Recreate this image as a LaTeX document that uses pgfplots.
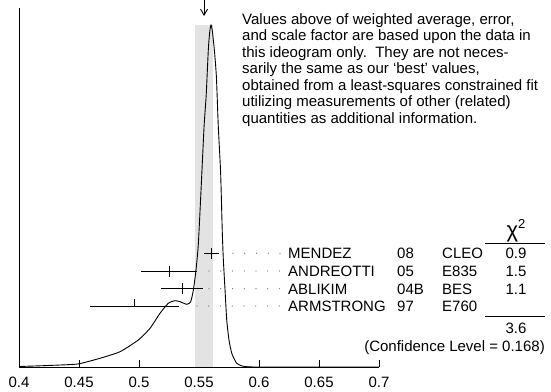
\documentclass[border=0pt]{standalone}
\usepackage{fontspec}
\setmainfont{Liberation Sans}
\usepackage{pgfplots}
\pgfplotsset{compat=1.18}
\usetikzlibrary{arrows.meta}

% ideogram curve (x, height)
\pgfplotstableread{
x h
0.4000 0.5
0.4200 1.3
0.4400 2.3
0.4500 3.2
0.4675 8.7
0.4842 15.3
0.4994 27
0.5092 38.7
0.5175 53.7
0.5244 63.7
0.5300 66.3
0.5342 65.3
0.5398 62.7
0.5431 65.3
0.5453 77
0.5475 97
0.5494 122
0.5515 172
0.5542 240
0.5560 272
0.5578 318
0.5590 336
0.5600 342
0.5610 337
0.5628 317
0.5645 290
0.5661 240
0.5680 195
0.5694 135
0.5703 107
0.5717 77
0.5731 47
0.5750 27
0.5773 13.7
0.5814 3.7
0.5860 1
0.5900 0.3
0.6008 0
0.7000 0
}\ideogram

% measurements: value, row height, error
\pgfplotstableread{
x y e
0.5603 113.7 0.0061
0.5250 96.0 0.0235
0.5360 78.3 0.0175
}\meas
\pgfplotstableread{
x y e
0.4960 61.0 0.0370
}\measlow

\begin{document}
\begin{tikzpicture}[font=\fontsize{15bp}{16.5bp}\selectfont]
\useasboundingbox (-19bp,-25bp) rectangle (532bp,367bp);
\begin{axis}[
  x=1200bp, y=1bp,
  xmin=0.4, xmax=0.7, ymin=0, ymax=359,
  axis x line=bottom, axis y line=left,
  axis line style={-, line width=0.9bp, black},
  xtick={0.4,0.45,0.5,0.55,0.6,0.65,0.7},
  xticklabels={0.4,0.45,0.5,0.55,0.6,0.65,0.7},
  ytick=\empty,
  tick align=inside,
  major tick length=7bp,
  tick style={black, line width=0.9bp},
  xticklabel style={font=\fontsize{15bp}{16.5bp}\selectfont, yshift=-6.5bp},
  clip=false,
]
% scale-factor band
\addplot [draw=none, fill=black!11] coordinates {(0.5467,0) (0.5614,0) (0.5614,342) (0.5467,342)} -- cycle;

\addplot [black, line width=0.9bp, smooth, tension=0.35] table [x=x, y=h] {\ideogram};

% dotted leaders
\draw [black!60, line width=1.2bp, line cap=round, dash pattern=on 0pt off 11.76bp]
  (axis cs:0.57833,113.7) -- (axis cs:0.6185,113.7);
\draw [black!60, line width=1.2bp, line cap=round, dash pattern=on 0pt off 11.76bp]
  (axis cs:0.55833,96) -- (axis cs:0.6185,96);
\draw [black!60, line width=1.2bp, line cap=round, dash pattern=on 0pt off 11.76bp]
  (axis cs:0.55833,78.3) -- (axis cs:0.6185,78.3);
\draw [black!60, line width=1.2bp, line cap=round, dash pattern=on 0pt off 11.76bp]
  (axis cs:0.54833,61) -- (axis cs:0.6185,61);

\addplot [black, only marks, mark=|, mark size=5.5bp, mark options={line width=0.9bp},
  error bars/.cd, x dir=both, x explicit, error mark=none,
  error bar style={line width=0.9bp, black}]
  table [x=x, y=y, x error=e] {\meas};
\addplot [black, only marks, mark=|, mark size=3.3bp, mark options={line width=0.9bp, yshift=3.3bp},
  error bars/.cd, x dir=both, x explicit, error mark=none,
  error bar style={line width=0.9bp, black}]
  table [x=x, y=y, x error=e] {\measlow};

% weighted average arrow
\draw [black, line width=0.9bp, -{Straight Barb[length=6bp, width=7bp]}]
  (axis cs:0.5542,368) -- (axis cs:0.5542,351);

% labels
\node [anchor=base west, inner sep=0] at (axis cs:0.62417,108.5) {MENDEZ};
\node [anchor=base west, inner sep=0] at (axis cs:0.62417,90.7) {ANDREOTTI};
\node [anchor=base west, inner sep=0] at (axis cs:0.62417,73) {ABLIKIM};
\node [anchor=base west, inner sep=0] at (axis cs:0.62417,55.7) {ARMSTRONG};
\node [anchor=base west, inner sep=0] at (axis cs:0.71500,108.5) {08};
\node [anchor=base west, inner sep=0] at (axis cs:0.71500,90.7) {05};
\node [anchor=base west, inner sep=0] at (axis cs:0.71500,73) {04B};
\node [anchor=base west, inner sep=0] at (axis cs:0.71500,55.7) {97};
\node [anchor=base west, inner sep=0] at (axis cs:0.75250,108.5) {CLEO};
\node [anchor=base west, inner sep=0] at (axis cs:0.75250,90.7) {E835};
\node [anchor=base west, inner sep=0] at (axis cs:0.75250,73) {BES};
\node [anchor=base west, inner sep=0] at (axis cs:0.75250,55.7) {E760};
\node [anchor=base, inner sep=0] at (axis cs:0.81417,108.5) {0.9};
\node [anchor=base, inner sep=0] at (axis cs:0.81417,90.7) {1.5};
\node [anchor=base, inner sep=0] at (axis cs:0.81417,73) {1.1};
\node [anchor=base, inner sep=0] at (axis cs:0.81417,33.7) {3.6};
\node [anchor=base, inner sep=0] at (axis cs:0.81417,130)
  {{\fontsize{22bp}{22bp}\selectfont χ}\raisebox{9bp}{\fontsize{13bp}{13bp}\selectfont 2}};
\draw [black, line width=0.9bp] (axis cs:0.78833,124) -- (axis cs:0.83833,124);
\draw [black, line width=0.9bp] (axis cs:0.78833,51) -- (axis cs:0.83833,51);
\node [anchor=base east, inner sep=0] at (axis cs:0.83833,16) {(Confidence Level = 0.168)};

\node [anchor=north west, inner sep=0, align=left] at (axis cs:0.58583,354)
  {Values above of weighted average, error,\\
   and scale factor are based upon the data in\\
   this ideogram only.\ \ They are not neces-\\
   sarily the same as our ‘best’ values,\\
   obtained from a least-squares constrained fit\\
   utilizing measurements of other (related)\\
   quantities as additional information.};
\end{axis}
\end{tikzpicture}
\end{document}
